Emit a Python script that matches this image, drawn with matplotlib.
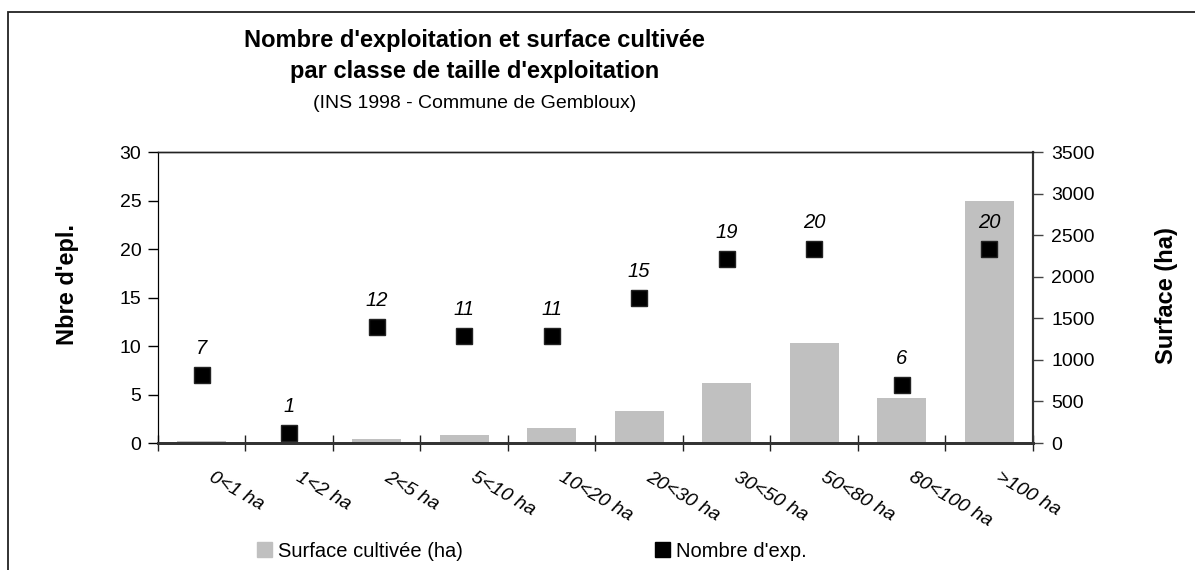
import matplotlib.pyplot as plt
import matplotlib.patches as mpatches
from matplotlib.transforms import ScaledTranslation
import numpy as np

plt.rcParams['font.family'] = ['Liberation Sans', 'DejaVu Sans']

# ---------------- data ----------------
classes = ['0<1 ha', '1<2 ha', '2<5 ha', '5<10 ha', '10<20 ha',
           '20<30 ha', '30<50 ha', '50<80 ha', '80<100 ha', '>100 ha']
nb_exploit = [7, 1, 12, 11, 11, 15, 19, 20, 6, 20]
surface_ha = [20, 5, 50, 95, 180, 385, 720, 1200, 540, 2910]

x = np.arange(len(classes))

fig = plt.figure(figsize=(11.95, 5.7), dpi=100)
ax = fig.add_axes([0.1322, 0.2228, 0.7322, 0.5105])
ax2 = ax.twinx()

# bars (right axis), drawn behind the squares
ax2.bar(x, surface_ha, width=0.56, color='#c0c0c0', zorder=1)
ax2.set_ylim(0, 3500)
ax2.set_yticks(range(0, 3501, 500))

ax.set_zorder(ax2.get_zorder() + 1)
ax.patch.set_visible(False)

ax.plot(x, nb_exploit, 's', color='black', markersize=12,
        markeredgecolor='#222222', zorder=3)
for xi, v in zip(x, nb_exploit):
    ax.annotate(str(v), (xi, v), xytext=(0, 19), textcoords='offset points',
                ha='center', va='center', fontsize=14.5, style='italic')

ax.set_xlim(-0.5, 9.5)
ax.set_ylim(0, 30)
ax.set_yticks(range(0, 31, 5))

# category labels at centres, tick marks at boundaries
ax.set_xticks(x)
ax.set_xticklabels(classes, rotation=-30, rotation_mode='anchor',
                   ha='left', va='center', fontsize=14, style='italic')
ax.tick_params(axis='x', which='major', length=0, pad=24)
ax.set_xticks(np.arange(-0.5, 10, 1), minor=True)
ax.tick_params(axis='x', which='minor', direction='inout', length=11,
               width=1, color='#222222')
for lab in ax.get_xticklabels():
    lab.set_transform(lab.get_transform() + ScaledTranslation(6 / 72, 0, fig.dpi_scale_trans))

ax.tick_params(axis='y', direction='out', length=7, width=1,
               labelsize=14, pad=5)
ax2.tick_params(axis='y', direction='out', length=7, width=1,
                labelsize=14, pad=6, color='#444444')

for a in (ax, ax2):
    a.spines['bottom'].set_color('#333333')
    a.spines['bottom'].set_linewidth(2)
    a.spines['top'].set_color('#222222')
    a.spines['top'].set_linewidth(1)
    a.spines['left'].set_color('black')
    a.spines['right'].set_color('#333333')
    a.spines['right'].set_linewidth(1.5)

ax.set_ylabel("Nbre d'epl.", fontsize=17, fontweight='bold')
ax.yaxis.set_label_coords(-0.09, 0.543)
ax2.set_ylabel('Surface (ha)', fontsize=17, fontweight='bold', rotation=90)
ax2.yaxis.set_label_coords(1.139, 0.505)

# titles
fig.text(0.397, 0.929, "Nombre d'exploitation et surface cultivée",
         ha='center', va='center', fontsize=17, fontweight='bold')
fig.text(0.397, 0.875, "par classe de taille d'exploitation",
         ha='center', va='center', fontsize=17, fontweight='bold')
fig.text(0.397, 0.819, "(INS 1998 - Commune de Gembloux)",
         ha='center', va='center', fontsize=14)

# legend (two entries, placed like the original)
leg_kw = dict(loc='center left', frameon=False, fontsize=14.5,
              handlelength=0.75, handleheight=0.75, handletextpad=0.3,
              borderpad=0, borderaxespad=0)
fig.legend([mpatches.Patch(color='#c0c0c0')], ['Surface cultivée (ha)'],
           bbox_to_anchor=(257 / 1195, 0.033), **leg_kw)
fig.legend([mpatches.Patch(color='black')], ["Nombre d'exp."],
           bbox_to_anchor=(655 / 1195, 0.033), **leg_kw)

# outer frame of the chart area (cut off on the right and bottom)
fig.patches.append(mpatches.Rectangle((8 / 1195, -0.1), 1.2, 1.1 - 12.5 / 570,
                                      transform=fig.transFigure, fill=False,
                                      lw=1.3, ec='#222222'))

fig.savefig('out.png', dpi=100)
